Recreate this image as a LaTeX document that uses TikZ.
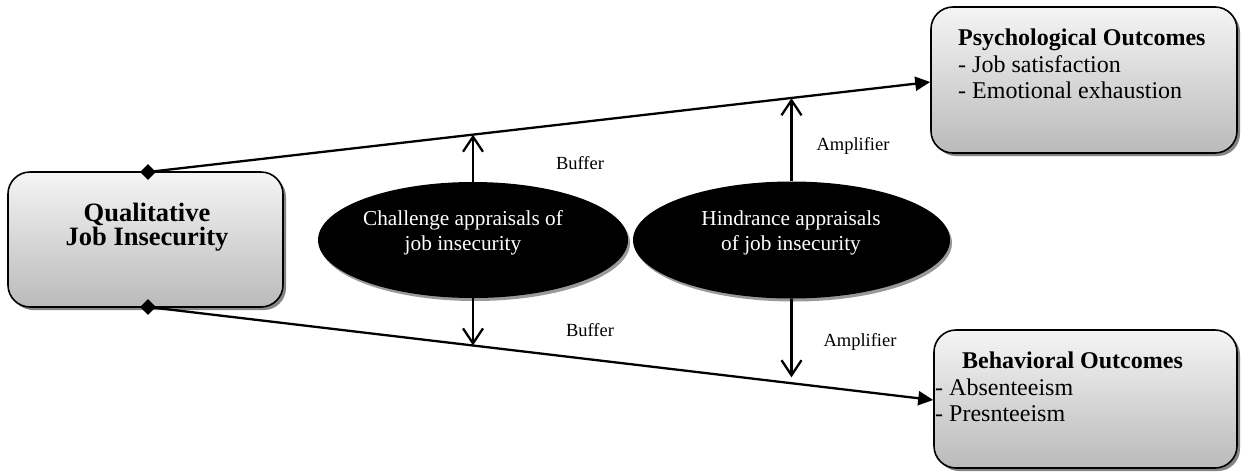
\documentclass[tikz,border=0pt]{standalone}
\usepackage{fontspec}
\setmainfont{Liberation Serif}
\usetikzlibrary{arrows.meta,shapes.geometric,shadows,calc}
\begin{document}
\begin{tikzpicture}[x=1pt,y=-1pt,
  box/.style={draw=black, line width=1.6pt, rounded corners=22pt,
    top color=black!4, bottom color=black!27,
    drop shadow={shadow xshift=3pt, shadow yshift=-3pt, fill=black!60, opacity=0.8},
    inner sep=0pt},
  oval/.style={ellipse, fill=black, draw=none, inner sep=0pt,
    drop shadow={shadow xshift=2pt, shadow yshift=-3pt, fill=black!40, opacity=1}},
  ovaltext/.style={text=white, align=center, inner sep=0pt,
    font=\fontsize{21.3}{25}\selectfont},
  headtext/.style={inner sep=0pt, anchor=base west, font=\fontsize{24}{26.5}\selectfont\bfseries},
  itemtext/.style={inner sep=0pt, anchor=base west, font=\fontsize{24}{26.5}\selectfont},
  lbl/.style={inner sep=0pt, anchor=base, font=\fontsize{18.5}{20}\selectfont},
  conn/.style={line width=2.3pt},
  joint/.style={diamond, fill=black, inner sep=0pt, minimum width=16pt, minimum height=16pt},
  openarrow/.style={line width=2.3pt, -{Straight Barb[length=15pt,width=20pt]}},
  filledarrow/.style={-{Triangle[length=15pt,width=14pt]}}
]
\useasboundingbox (0,0) rectangle (1241,472);

% boxes
\node[box, minimum width=275pt, minimum height=135pt] (qji) at (145.5,239.5) {};
\node[box, minimum width=306pt, minimum height=146pt] (psych) at (1084,80) {};
\node[box, minimum width=303pt, minimum height=138pt] (behav) at (1085.5,399) {};

% box texts
\node[inner sep=0pt, align=center, font=\fontsize{26.5}{24}\selectfont\bfseries] (qjitext) at (147,227) {Qualitative\\Job Insecurity};
\node[headtext] (p1) at (958,45) {Psychological Outcomes};
\node[itemtext] (p2) at (958,72) {- Job satisfaction};
\node[itemtext] (p3) at (958,98.5) {- Emotional exhaustion};
\node[headtext] (b1t) at (962,368) {Behavioral Outcomes};
\node[itemtext] (b2t) at (935,395) {- Absenteeism};
\node[itemtext] (b3t) at (935,421.5) {- Presnteeism};

% ellipses
\node[oval, minimum width=310pt, minimum height=116pt] (ch) at (473,240) {};
\node[oval, minimum width=317pt, minimum height=117pt] (hi) at (791.5,240) {};
\node[ovaltext] (chtext) at (463,232.6) {Challenge appraisals of\\job insecurity};
\node[ovaltext] (hitext) at (791,232.6) {Hindrance appraisals\\of job insecurity};

% joints
\node[joint] (d1) at (148,172) {};
\node[joint] (d2) at (148,307) {};

% main connectors
\draw[conn, filledarrow] (d1.center) -- ([yshift=-2pt]psych.west);
\draw[conn, filledarrow] (d2.center) -- ([yshift=-1pt]behav.west);

% points on the main connectors
\coordinate (t1) at ($(d1.center)!0.415!([yshift=-2pt]psych.west)$);
\coordinate (t2) at ($(d1.center)!0.82!([yshift=-2pt]psych.west)$);
\coordinate (u1) at ($(d2.center)!0.4135!([yshift=-1pt]behav.west)$);
\coordinate (u2) at ($(d2.center)!0.82!([yshift=-1pt]behav.west)$);

% moderator arrows
\draw[openarrow] (ch.north) -- (ch.north |- t1);
\draw[openarrow] (hi.north) -- (hi.north |- t2);
\draw[openarrow] (ch.south) -- (ch.south |- u1);
\draw[openarrow] (hi.south) -- ($(hi.south |- u2)+(0,-6)$);

% labels
\node[lbl] (lb1) at (580,169) {Buffer};
\node[lbl] (la1) at (853,150) {Amplifier};
\node[lbl] (lb2) at (590,336) {Buffer};
\node[lbl] (la2) at (860,346.5) {Amplifier};
\end{tikzpicture}
\end{document}
